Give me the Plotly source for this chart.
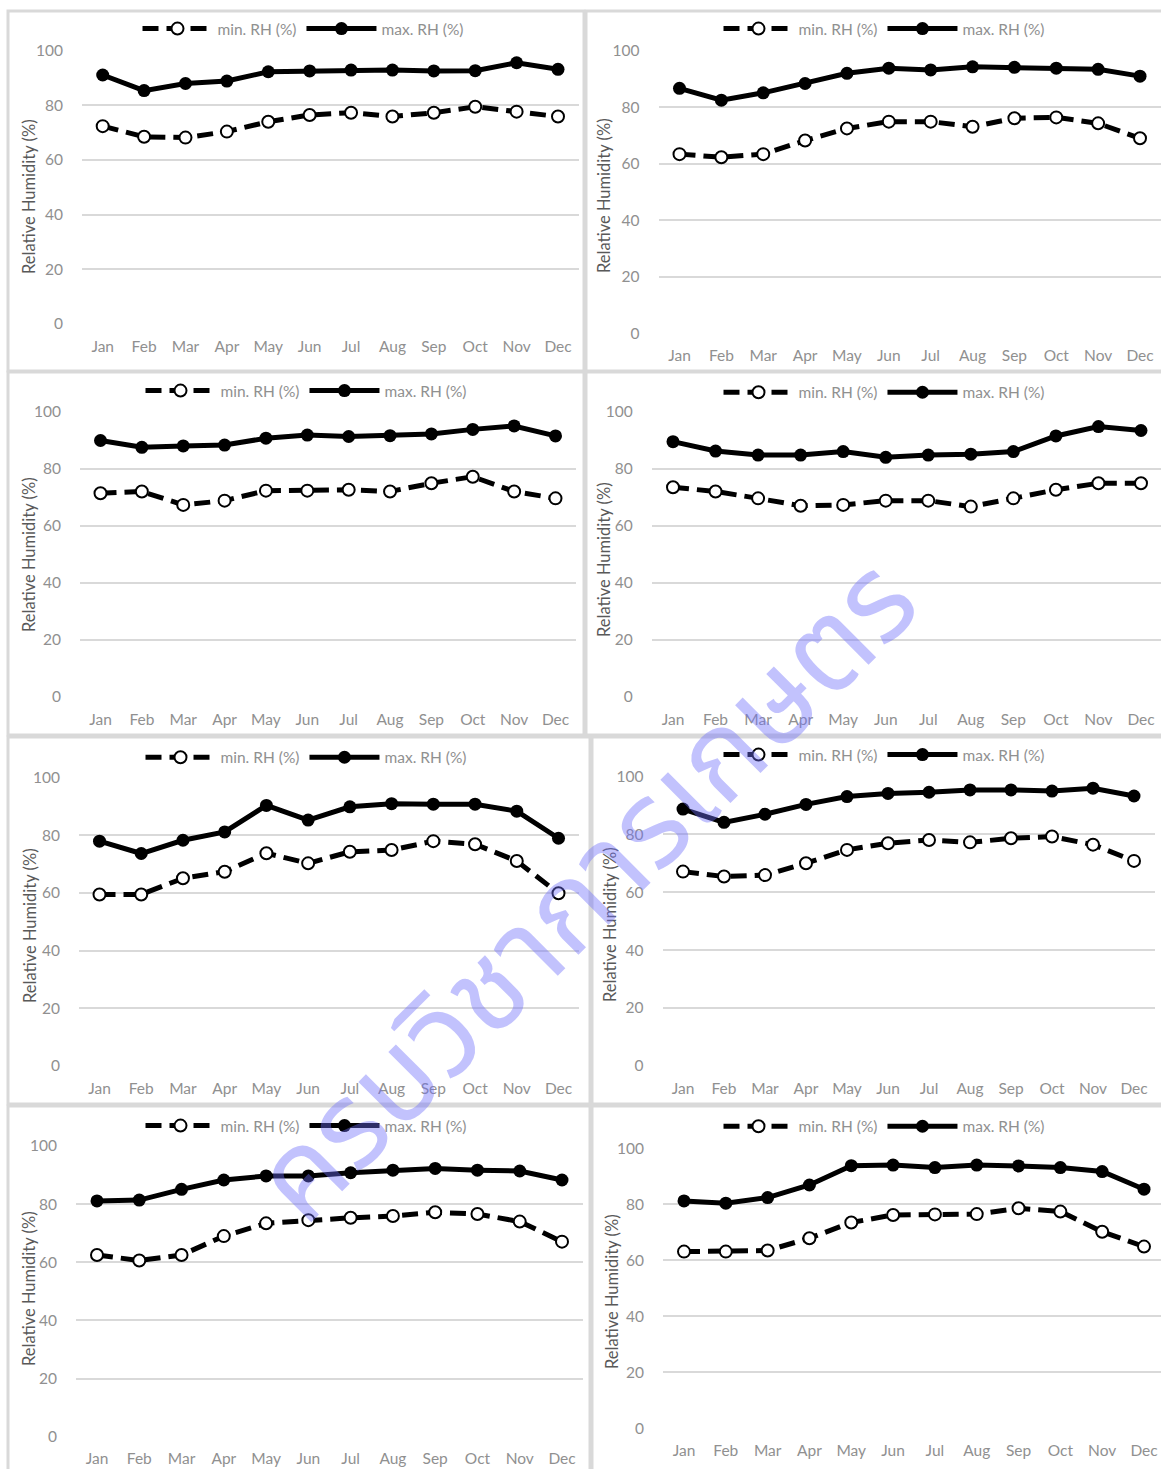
import plotly.graph_objects as go

months = ["Jan", "Feb", "Mar", "Apr", "May", "Jun", "Jul", "Aug", "Sep", "Oct", "Nov", "Dec"]
x_idx = list(range(12))

# RH values per panel (reading order: row by row, left then right)
min_rh_1 = [72.4, 68.5, 68.2, 70.4, 74.0, 76.5, 77.3, 75.9, 77.3, 79.5, 77.7, 75.9]
max_rh_1 = [91.1, 85.4, 88.0, 88.9, 92.3, 92.6, 92.9, 92.9, 92.6, 92.7, 95.6, 93.2]
min_rh_2 = [63.4, 62.3, 63.4, 68.2, 72.5, 74.9, 74.9, 73.1, 76.1, 76.4, 74.3, 69.0]
max_rh_2 = [86.7, 82.5, 85.1, 88.4, 92.0, 93.8, 93.2, 94.3, 94.1, 93.8, 93.4, 91.0]
min_rh_3 = [71.5, 72.1, 67.4, 68.9, 72.4, 72.4, 72.7, 72.1, 75.0, 77.3, 72.1, 69.7]
max_rh_3 = [90.0, 87.6, 88.1, 88.4, 90.8, 91.9, 91.4, 91.7, 92.3, 93.9, 95.1, 91.6]
min_rh_4 = [73.6, 72.1, 69.7, 67.1, 67.4, 68.9, 68.9, 66.8, 69.7, 72.7, 75.0, 75.0]
max_rh_4 = [89.6, 86.3, 84.9, 84.9, 86.1, 84.1, 84.9, 85.2, 86.1, 91.6, 94.9, 93.5]
min_rh_5 = [59.5, 59.5, 65.1, 67.4, 73.8, 70.3, 74.3, 74.9, 78.0, 76.9, 71.1, 59.9]
max_rh_5 = [78.0, 73.7, 78.3, 81.2, 90.4, 85.3, 89.9, 91.0, 90.8, 90.8, 88.4, 79.0]
min_rh_6 = [67.1, 65.4, 65.9, 70.0, 74.6, 76.9, 78.0, 77.2, 78.6, 79.2, 76.4, 70.8]
max_rh_6 = [88.7, 84.1, 86.9, 90.3, 93.0, 94.1, 94.5, 95.3, 95.3, 94.9, 95.9, 93.2]
min_rh_7 = [62.5, 60.6, 62.5, 69.0, 73.4, 74.5, 75.3, 75.9, 77.2, 76.6, 74.0, 67.1]
max_rh_7 = [81.1, 81.4, 85.1, 88.3, 89.7, 89.7, 90.8, 91.7, 92.3, 91.7, 91.4, 88.3]
min_rh_8 = [63.1, 63.1, 63.5, 67.9, 73.5, 76.2, 76.4, 76.5, 78.6, 77.4, 70.2, 64.9]
max_rh_8 = [81.2, 80.4, 82.4, 86.9, 93.8, 94.0, 93.1, 94.0, 93.7, 93.1, 91.7, 85.4]

min_series = [min_rh_1, min_rh_2, min_rh_3, min_rh_4, min_rh_5, min_rh_6, min_rh_7, min_rh_8]
max_series = [max_rh_1, max_rh_2, max_rh_3, max_rh_4, max_rh_5, max_rh_6, max_rh_7, max_rh_8]

y_ticks = [0, 20, 40, 60, 80, 100]
y_title = "Relative Humidity (%)"
min_name = "min. RH (%)"
max_name = "max. RH (%)"
watermark = "ครบวิชาการเกษตร"

W, H = 1161, 1469

# layout geometry in pixels
panels = [
    dict(x0=82, x1=579, y100=50.7, y0=324, lx=303, ly=29, tx=29, ty=197, box=(8, 11, 584, 371)),
    dict(x0=658.5, x1=1161, y100=50.7, y0=333.3, lx=884, ly=29, tx=604, ty=196, box=(586, 11, 1166, 371)),
    dict(x0=80, x1=576, y100=412, y0=697, lx=306, ly=391, tx=29, ty=555, box=(8, 372, 584, 735)),
    dict(x0=651.7, x1=1161, y100=412, y0=697, lx=884, ly=392.7, tx=604, ty=560, box=(586, 372, 1166, 735)),
    dict(x0=79, x1=579, y100=777.7, y0=1066, lx=306, ly=757.7, tx=30, ty=926, box=(8, 737, 590, 1104)),
    dict(x0=662.5, x1=1154.5, y100=776.3, y0=1066, lx=884, ly=755, tx=610, ty=925, box=(592, 737, 1166, 1104)),
    dict(x0=76, x1=583, y100=1146, y0=1436.7, lx=306, ly=1126, tx=29, ty=1289, box=(8, 1106, 590, 1475)),
    dict(x0=663, x1=1161, y100=1148.3, y0=1428.3, lx=884, ly=1126.7, tx=612, ty=1292, box=(592, 1106, 1166, 1475)),
]
# x px of Jan / Dec centers per panel (to size the category range)
jan_dec = [(102.7, 558), (679.5, 1140), (100.5, 555.5), (673, 1141), (99.5, 558.5), (683, 1134), (97, 562), (684, 1144)]


def px(x):
    return x / W


def py(y):
    return 1 - y / H


FONT_FAMILY = "Lato, 'Open Sans', sans-serif"
TICK_FONT = dict(family=FONT_FAMILY, size=15.5, color="#909090")
GRID = "#d9d9d9"

fig = go.Figure()
layout = dict(
    width=W, height=H, margin=dict(l=0, r=0, t=0, b=0, autoexpand=False),
    paper_bgcolor="white", plot_bgcolor="white", showlegend=True,
    template="none",
)
annotations = []
shapes = []

for i, p in enumerate(panels):
    n = i + 1
    xa = "x" if n == 1 else f"x{n}"
    ya = "y" if n == 1 else f"y{n}"
    lg = "legend" if n == 1 else f"legend{n}"
    j0, j1 = jan_dec[i]
    step = (j1 - j0) / 11
    r0 = -0.5 - (j0 - 0.5 * step - p["x0"]) / step
    r1 = r0 + (p["x1"] - p["x0"]) / step

    fig.add_trace(go.Scatter(
        x=x_idx, y=min_series[i], name=min_name, mode="lines+markers",
        xaxis=xa, yaxis=ya, legend=lg,
        line=dict(color="black", width=5, dash="16px,8px"),
        marker=dict(symbol="circle", size=12, color="white", line=dict(color="black", width=2)),
    ))
    fig.add_trace(go.Scatter(
        x=x_idx, y=max_series[i], name=max_name, mode="lines+markers",
        xaxis=xa, yaxis=ya, legend=lg,
        line=dict(color="black", width=5),
        marker=dict(symbol="circle", size=13, color="black"),
    ))

    xkey = "xaxis" if n == 1 else f"xaxis{n}"
    ykey = "yaxis" if n == 1 else f"yaxis{n}"
    layout[xkey] = dict(
        domain=[px(p["x0"]), min(1.0, px(p["x1"]))], anchor=ya,
        range=[r0, r1], tickmode="array", tickvals=x_idx, ticktext=months,
        showgrid=False, zeroline=False, showline=False, ticks="",
        tickfont=TICK_FONT, ticklabelstandoff=11, fixedrange=True, automargin=False,
    )
    layout[ykey] = dict(
        domain=[py(p["y0"]), py(p["y100"])], anchor=xa,
        range=[0, 100], tickmode="array", tickvals=y_ticks,
        showgrid=True, gridcolor=GRID, gridwidth=2, zeroline=False, showline=False,
        ticks="", tickfont=TICK_FONT, ticklabelstandoff=18, fixedrange=True, automargin=False,
    )
    layout[lg] = dict(
        orientation="h", x=px(p["lx"]), y=py(p["ly"]), xanchor="center", yanchor="middle",
        xref="paper", yref="paper", itemwidth=70, bgcolor="rgba(0,0,0,0)",
        font=dict(family=FONT_FAMILY, size=15.5, color="#909090"),
        itemclick=False, itemdoubleclick=False, tracegroupgap=0,
    )
    annotations.append(dict(
        text=y_title, x=px(p["tx"]), y=py(p["ty"]), xref="paper", yref="paper",
        showarrow=False, textangle=-90, xanchor="center", yanchor="middle",
        font=dict(family=FONT_FAMILY, size=16.5, color="#595959"),
    ))
    bx0, by0, bx1, by1 = p["box"]
    shapes.append(dict(
        type="rect", xref="paper", yref="paper",
        x0=px(bx0), x1=px(bx1), y0=py(by1), y1=py(by0),
        line=dict(color="#d9d9d9", width=3), fillcolor="rgba(0,0,0,0)", layer="below",
    ))

annotations.append(dict(
    text=watermark, x=px(588), y=py(893), xref="paper", yref="paper",
    showarrow=False, textangle=-45, xanchor="center", yanchor="middle",
    font=dict(family="'Noto Sans Thai', 'Noto Sans', 'DejaVu Sans', sans-serif", size=120,
              color="rgba(110,110,250,0.42)"),
))

layout["annotations"] = annotations
layout["shapes"] = shapes
fig.update_layout(**layout)
fig.write_html(
    "out.html",
    config={"displayModeBar": False, "staticPlot": True},
    post_script="document.body.style.margin='0';document.body.style.overflow='hidden';",
)
